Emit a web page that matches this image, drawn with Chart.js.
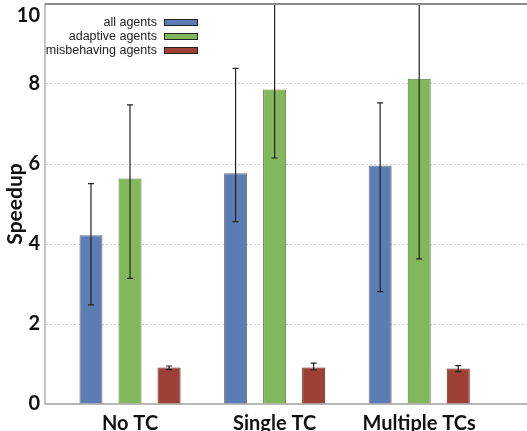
<!DOCTYPE html>
<html>
<head>
<meta charset="utf-8">
<script src="https://cdn.jsdelivr.net/npm/chart.js@4/dist/chart.umd.min.js"></script>
<style>
  html, body { margin: 0; padding: 0; background: #fff; overflow: hidden; }
  #wrap { position: relative; width: 527px; height: 431px; overflow: hidden; }
  #legend { position: absolute; left: 0; top: 15px; width: 198px; }
  .row { display: flex; justify-content: flex-end; align-items: center; height: 14px; }
  .row span.txt { font: 12.5px "Liberation Sans", Arial, sans-serif; color: #222; }
  .row span.box { width: 32px; height: 5px; border: 1.5px solid #222; margin-left: 7px; }
</style>
</head>
<body>
<div id="wrap">
  <canvas id="myChart" width="545" height="431"></canvas>
  <div id="legend"></div>
</div>
<script>
// --- Data ---
const categories = ["No TC", "Single TC", "Multiple TCs"];
const yTicks = [0, 2, 4, 6, 8, 10];

const allAgents = [4.22, 5.77, 5.96];
const allLow = [2.48, 4.56, 2.81];
const allHigh = [5.51, 8.39, 7.53];

const adaptiveAgents = [5.64, 7.86, 8.13];
const adaptiveLow = [3.14, 6.15, 3.63];
const adaptiveHigh = [7.48, 10.6, 10.6];

const misbehavingAgents = [0.91, 0.91, 0.89];
const misbehavingLow = [0.86, 0.85, 0.81];
const misbehavingHigh = [0.95, 1.02, 0.96];

const tickFont = { family: "Lato", size: 20, weight: "bold" };

function series(label, values, low, high, fill, border) {
  return {
    label: label,
    data: values.map((v, i) => ({ x: i, y: v })),
    low: low,
    high: high,
    backgroundColor: fill,
    borderColor: border,
    borderWidth: 1,
    categoryPercentage: 0.81,
    barPercentage: 0.59,
  };
}

const datasets = [
  series("all agents", allAgents, allLow, allHigh, "#5c7db3", "#6d7683"),
  series("adaptive agents", adaptiveAgents, adaptiveLow, adaptiveHigh, "#83b75c", "#5a7d45"),
  series("misbehaving agents", misbehavingAgents, misbehavingLow, misbehavingHigh, "#9e4035", "#5e2a22"),
];

// --- Top frame line + error bars ---
const frameTop = {
  id: "frameTop",
  afterDraw(chart) {
    const { ctx, chartArea } = chart;
    ctx.save();
    ctx.strokeStyle = "#8c8c8c";
    ctx.lineWidth = 2;
    ctx.beginPath();
    ctx.moveTo(chartArea.left, chartArea.top);
    ctx.lineTo(chartArea.right, chartArea.top);
    ctx.stroke();
    ctx.restore();
  },
};

const errorBars = {
  id: "errorBars",
  afterDatasetsDraw(chart) {
    const ctx = chart.ctx;
    const y = chart.scales.y;
    const area = chart.chartArea;
    ctx.save();
    ctx.beginPath();
    ctx.rect(area.left, area.top, area.right - area.left, area.bottom - area.top);
    ctx.clip();
    ctx.strokeStyle = "#222";
    ctx.lineWidth = 1.2;
    chart.data.datasets.forEach((ds, i) => {
      chart.getDatasetMeta(i).data.forEach((bar, j) => {
        const top = y.getPixelForValue(ds.high[j]);
        const bot = y.getPixelForValue(ds.low[j]);
        ctx.beginPath();
        ctx.moveTo(bar.x, top);
        ctx.lineTo(bar.x, bot);
        ctx.moveTo(bar.x - 3, top);
        ctx.lineTo(bar.x + 3, top);
        ctx.moveTo(bar.x - 3, bot);
        ctx.lineTo(bar.x + 3, bot);
        ctx.stroke();
      });
    });
    ctx.restore();
  },
};

const chart = new Chart(document.getElementById("myChart").getContext("2d"), {
  type: "bar",
  data: { datasets: datasets },
  plugins: [errorBars, frameTop],
  options: {
    responsive: false,
    animation: false,
    layout: { padding: { top: 4, right: 0, left: 0, bottom: 0 } },
    plugins: { legend: { display: false }, tooltip: { enabled: false } },
    scales: {
      x: {
        type: "linear",
        min: -0.588,
        max: 2.87,
        offset: false,
        grid: { display: false, offset: false },
        border: { display: true, color: "#b8b8b8", width: 2 },
        ticks: {
          stepSize: 1,
          includeBounds: false,
          padding: 0,
          color: "#111",
          font: tickFont,
          maxRotation: 0,
          autoSkip: false,
          callback: (v) => (Number.isInteger(v) ? categories[v] : null),
        },
        afterFit: (s) => {
          s.height = 27;
          s.paddingLeft = 0;
          s.paddingRight = 0;
        },
      },
      y: {
        min: yTicks[0],
        max: yTicks[yTicks.length - 1],
        afterBuildTicks: (s) => {
          s.ticks = yTicks.map((v) => ({ value: v }));
        },
        grid: {
          drawTicks: false,
          lineWidth: 1,
          color: "#d4d4d4",
        },
        border: {
          display: true,
          color: "#c4c4c4",
          width: 2,
          dash: [2, 2],
        },
        ticks: {
          padding: 5,
          color: "#111",
          font: tickFont,
          callback: (v) => (v === 10 ? ["", "10"] : String(v)),
        },
        title: {
          display: true,
          text: "Speedup",
          color: "#111",
          font: { family: "Lato", size: 21, weight: "bold" },
          padding: { top: 3, bottom: 0 },
        },
        afterFit: (s) => {
          s.width = 45;
          s.paddingTop = 0;
          s.paddingBottom = 0;
        },
      },
    },
  },
});

// --- Legend (box on the right, like the original) ---
const legendDiv = document.getElementById("legend");
chart.data.datasets.forEach((ds) => {
  const row = document.createElement("div");
  row.className = "row";
  row.innerHTML = `<span class="txt">${ds.label}</span><span class="box" style="background:${ds.backgroundColor}"></span>`;
  legendDiv.appendChild(row);
});
</script>
</body>
</html>
